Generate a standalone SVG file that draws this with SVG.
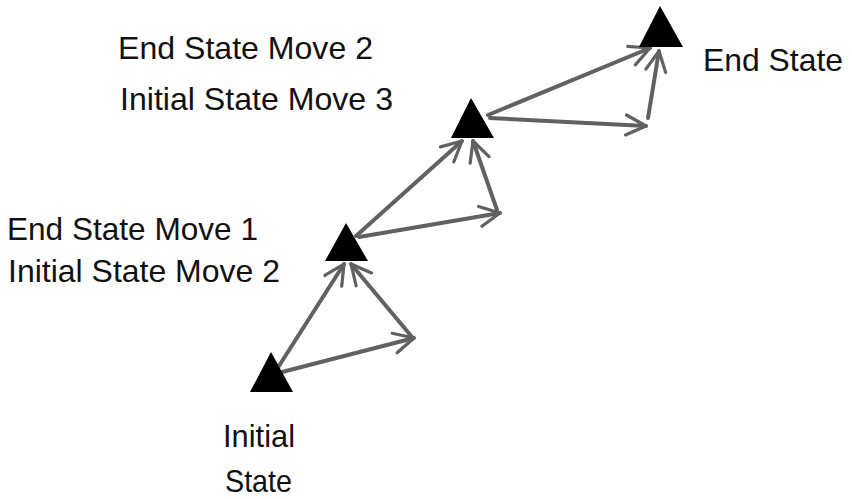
<svg xmlns="http://www.w3.org/2000/svg" width="852" height="499" viewBox="0 0 852 499">
<style>
.lbl{font-family:"Liberation Sans",Arial,sans-serif;font-size:30.5px;fill:#111}
.tri{fill:#000}
.ar{stroke:#616161;stroke-width:4;fill:none;stroke-linecap:round;marker-end:url(#ah)}
</style>
<defs>
<marker id="ah" viewBox="0 0 12 12" refX="11" refY="6" markerWidth="6" markerHeight="6" orient="auto" markerUnits="strokeWidth">
<path d="M1,1 L11,6 L1,11" fill="none" stroke="#616161" stroke-width="1.6" stroke-linecap="round" stroke-linejoin="round"/>
</marker>
</defs>
<rect width="852" height="499" fill="#fff"/>
<g id="connectors">
<line class="ar" x1="277" y1="369" x2="344" y2="264"/>
<line class="ar" x1="282" y1="372" x2="414" y2="338"/>
<line class="ar" x1="412" y1="337" x2="351" y2="264"/>
<line class="ar" x1="356" y1="236" x2="462" y2="141"/>
<line class="ar" x1="359" y1="237" x2="500" y2="213"/>
<line class="ar" x1="497" y1="210" x2="473" y2="141"/>
<line class="ar" x1="488" y1="115" x2="650" y2="48"/>
<line class="ar" x1="490" y1="118" x2="646" y2="126"/>
<line class="ar" x1="648" y1="118" x2="659" y2="51"/>
</g>
<g id="node-initial">
<polygon class="tri" points="271,352 250,392 293,392"/>
<text class="lbl" x="223" y="447" textLength="72" lengthAdjust="spacingAndGlyphs">Initial</text>
<text class="lbl" x="225" y="492" textLength="67" lengthAdjust="spacingAndGlyphs">State</text>
</g>
<g id="node-move1">
<polygon class="tri" points="346,223 325,261 368,261"/>
<text class="lbl" x="7" y="240" textLength="251" lengthAdjust="spacingAndGlyphs">End State Move 1</text>
<text class="lbl" x="8" y="282" textLength="272" lengthAdjust="spacingAndGlyphs">Initial State Move 2</text>
</g>
<g id="node-move2">
<polygon class="tri" points="471,98 451,138 494,138"/>
<text class="lbl" x="118" y="59" textLength="255" lengthAdjust="spacingAndGlyphs">End State Move 2</text>
<text class="lbl" x="120" y="110" textLength="273" lengthAdjust="spacingAndGlyphs">Initial State Move 3</text>
</g>
<g id="node-end">
<polygon class="tri" points="660,6 639,47 683,47"/>
<text class="lbl" x="703" y="71" textLength="140" lengthAdjust="spacingAndGlyphs">End State</text>
</g>
</svg>
